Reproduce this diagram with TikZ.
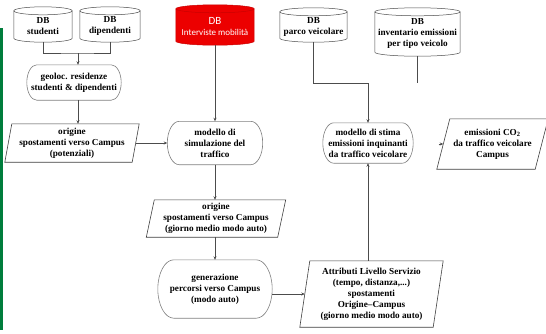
\documentclass[tikz,border=0pt]{standalone}
\usepackage{fontspec}
\setmainfont{Liberation Serif}
\newfontfamily\calfont{Carlito}
\usetikzlibrary{arrows.meta,calc,backgrounds}
\definecolor{dbred}{RGB}{236,0,0}
\definecolor{barGreen}{RGB}{0,125,60}
% cylinder drawn round a node; its top is 3pt above the node's north
\newcommand\dbcyl[2]{%
  \path[#2] let \p1=(#1.north west), \p2=(#1.south east), \n1={(\x2-\x1)/2} in
    (\x1,\y1-1pt) -- (\x1,\y2+4pt)
    arc[start angle=180,end angle=360,x radius=\n1,y radius=4pt]
    -- (\x2,\y1-1pt)
    arc[start angle=0,end angle=180,x radius=\n1,y radius=4pt] -- cycle;
  \path[#2,fill=none] let \p1=(#1.north west), \p2=(#1.south east), \n1={(\x2-\x1)/2} in
    (\x1,\y1-1pt) arc[start angle=180,end angle=360,x radius=\n1,y radius=4pt];}
% stadium with elliptic ends of horizontal radius #2
\newcommand\stadium[2]{%
  \draw[stadline] let \p1=(#1.north west), \p2=(#1.south east), \n1={(\y1-\y2)/2} in
    (\x1+#2,\y1) -- (\x2-#2,\y1)
    arc[start angle=90,end angle=-90,x radius=#2,y radius=\n1]
    -- (\x1+#2,\y2)
    arc[start angle=270,end angle=90,x radius=#2,y radius=\n1] -- cycle;}
\newcommand\paral[2]{%
  \draw[paraline] ([xshift=#2]#1.north west) -- ([xshift=#2]#1.north east)
    -- ([xshift=-#2]#1.south east) -- ([xshift=-#2]#1.south west) -- cycle;}
\begin{document}
\begin{tikzpicture}[x=1pt,y=-1pt,
  txt/.style={font=\fontsize{9.2}{11}\selectfont\bfseries, align=center, inner sep=0pt},
  cylnode/.style={txt, rectangle},
  cylline/.style={draw=black!70, line width=.5pt, fill=white},
  redline/.style={draw=dbred!85!black, line width=.5pt, fill=dbred},
  stad/.style={txt, rectangle},
  stadline/.style={draw=black!50, line width=.6pt},
  paranode/.style={txt, rectangle},
  paraline/.style={draw=black!75, line width=.6pt},
  conn/.style={draw=black!70, line width=.6pt},
  arr/.style={conn, -{Stealth[length=3.5pt,width=3pt]}}]
\useasboundingbox (0,0) rectangle (546,333);

% databases
\node[cylnode, minimum width=58pt, minimum height=32pt] (stu) at (43,26) {DB\\studenti};
\node[cylnode, minimum width=60pt, minimum height=32pt] (dip) at (110,26) {DB\\dipendenti};
\node[cylnode, minimum width=78pt, minimum height=37pt, text=white, font=\calfont] (int) at (215,26.5)
  {{\fontsize{11}{12}\selectfont DB}\\[-1pt]{\fontsize{9}{10}\selectfont Interviste mobilità}};
\node[cylnode, minimum width=67pt, minimum height=31pt] (par) at (313.5,26.5) {DB\\parco veicolare};
\node[cylnode, minimum width=85pt, minimum height=45pt] (inv) at (417.5,33.5) {DB\\inventario emissioni\\per tipo veicolo};
\begin{pgfonlayer}{background}
  \fill[white] (0,0) rectangle (546,333);
  \fill[barGreen] (0,28) rectangle (3,330);
  \dbcyl{stu}{cylline}
  \dbcyl{dip}{cylline}
  \dbcyl{int}{redline}
  \dbcyl{par}{cylline}
  \dbcyl{inv}{cylline}
\end{pgfonlayer}

% processes
\node[stad, minimum width=94pt, minimum height=35pt] (geo) at (74,82.5) {geoloc. residenze\\studenti \& dipendenti};
\stadium{geo}{10pt}
\node[stad, minimum width=95pt, minimum height=43pt] (ms) at (215,143) {modello di\\simulazione del\\traffico};
\stadium{ms}{12pt}
\node[stad, minimum width=114pt, minimum height=58pt] (gen) at (215,289) {generazione\\percorsi verso Campus\\(modo auto)};
\stadium{gen}{16pt}
\node[stad, minimum width=90pt, minimum height=40pt] (mst) at (368,143) {modello di stima\\emissioni inquinanti\\da traffico veicolare};
\stadium{mst}{11pt}

% data
\node[paranode, minimum width=127pt, minimum height=38pt] (o1) at (72,143) {origine\\spostamenti verso Campus\\(potenziali)};
\paral{o1}{3.5pt}
\node[paranode, minimum width=131pt, minimum height=37pt] (o2) at (216,218.5) {origine\\spostamenti verso Campus\\(giorno medio modo auto)};
\paral{o2}{4pt}
\node[paranode, minimum width=133pt, minimum height=66pt] (att) at (371.5,294) {Attributi Livello Servizio\\(tempo, distanza,...)\\spostamenti\\Origine--Campus\\(giorno medio modo auto)};
\paral{att}{5pt}
\node[paranode, minimum width=98pt, minimum height=50pt] (emi) at (492.5,144) {emissioni CO\textsubscript{2}\\da traffico veicolare\\Campus};
\paral{emi}{6.5pt}

% connectors
\coordinate (j1) at (78,53);
\draw[conn] (stu.south) |- (j1) -| (dip.south);
\draw[arr] (j1) -- (j1 |- geo.north);
\draw[arr] (j1 |- geo.south) -- (j1 |- o1.north);
\draw[arr] (o1.east) -- (ms.west);
\draw[arr] (int.south) -- (ms.north);
\draw[arr] (ms.south) -- (ms.south |- o2.north);
\draw[arr] (ms.south |- o2.south) -- (gen.north);
\draw[arr] (att.west -| gen.east) -- (att.west);
\draw[arr] (mst.south |- att.north) -- (mst.south);
\coordinate (j2) at (368,83);
\draw[arr] (par.south) |- (j2) -- (mst.north);
\coordinate (invEnd) at (417.5,83);
\draw[conn] (inv.south) -- (invEnd);
\coordinate (emiTail) at (438.5,144);
\draw[arr] (emiTail) -- (emi.west);
\end{tikzpicture}
\end{document}
